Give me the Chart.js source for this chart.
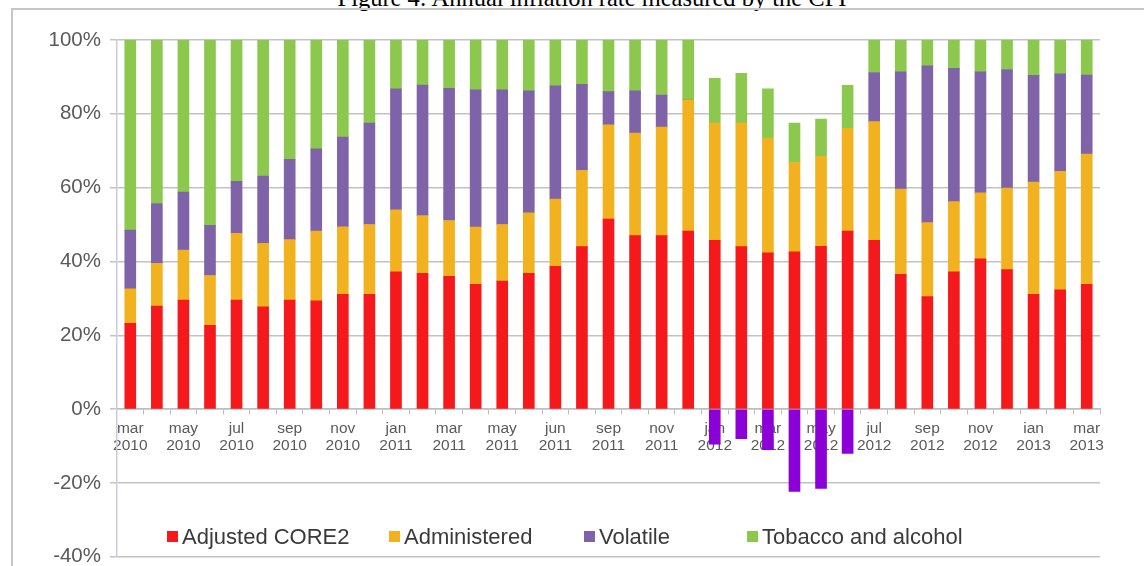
<!DOCTYPE html>
<html>
<head>
<meta charset="utf-8">
<script src="https://cdn.jsdelivr.net/npm/chart.js@4"></script>
<style>
  html, body { margin: 0; padding: 0; background: #fff; }
  #wrap { position: relative; width: 1144px; height: 566px; overflow: hidden; background: #fff; }
  #frame { position: absolute; left: 11px; top: 8px; width: 1200px; height: 620px; border: 2px solid #c6c6c6; box-sizing: border-box; }
  #title { position: absolute; left: 0; width: 1184px; top: -14px; text-align: center; font-family: "Liberation Serif", serif; font-size: 24.5px; line-height: 24px; color: #000; white-space: nowrap; }
  #chart { position: absolute; left: 0; top: 0; }
  .leg { position: absolute; top: 526px; font-family: "Liberation Sans", Arial, sans-serif; font-size: 22px; line-height: 22px; color: #3a3a3a; white-space: nowrap; }
  .leg i { display: inline-block; width: 11px; height: 11px; margin-right: 4px; vertical-align: 2px; }
</style>
</head>
<body>
<div id="wrap">
  <div id="title">Figure 4: Annual inflation rate measured by the CPI</div>
  <div id="frame"></div>
  <canvas id="chart" width="1144" height="578"></canvas>
  <div id="legend"></div>
</div>
<script>
const categories = [
  "mar 2010","apr 2010","may 2010","jun 2010","jul 2010","aug 2010","sep 2010","oct 2010","nov 2010","dec 2010",
  "jan 2011","feb 2011","mar 2011","apr 2011","may 2011","jun 2011","jul 2011","aug 2011","sep 2011","oct 2011","nov 2011","dec 2011",
  "jan 2012","feb 2012","mar 2012","apr 2012","may 2012","jun 2012","jul 2012","aug 2012","sep 2012","oct 2012","nov 2012","dec 2012",
  "jan 2013","feb 2013","mar 2013"
];
const tickLabels = [
  "mar 2010","may 2010","jul 2010","sep 2010","nov 2010","jan 2011","mar 2011","may 2011","jun 2011",
  "sep 2011","nov 2011","jan 2012","mar 2012","may 2012","jul 2012","sep 2012","nov 2012","ian 2013","mar 2013"
];
const seriesNames = ["Adjusted CORE2", "Administered", "Volatile", "Tobacco and alcohol"];
const adjustedCore2 = [23.2,27.9,29.5,22.7,29.5,27.7,29.5,29.3,31.1,31.1,37.2,36.8,36.0,33.8,34.7,36.8,38.7,44.0,51.5,47.0,47.0,48.2,45.7,44.0,42.3,42.6,44.1,48.2,45.7,36.5,30.5,37.2,40.7,37.8,31.1,32.3,33.8];
const administered = [9.4,11.6,13.6,13.5,18.1,17.2,16.4,18.9,18.3,18.9,16.8,15.6,15.1,15.5,15.3,16.4,18.2,20.7,25.5,27.8,29.4,35.6,31.8,33.5,31.1,24.2,24.4,27.9,32.2,23.1,20.0,19.0,17.9,22.1,30.4,32.1,35.3];
const volatile = [15.9,16.2,15.7,13.6,14.1,18.2,21.8,22.3,24.3,27.5,32.8,35.4,35.8,37.2,36.5,33.0,30.7,23.3,9.0,11.4,8.7,0,-9.5,-8.0,-11.0,-22.3,-21.5,-12.0,13.3,31.8,42.5,36.1,32.8,32.1,28.9,26.4,21.4];
const tobaccoAlcohol = [51.5,44.3,41.2,50.2,38.3,36.9,32.3,29.5,26.3,22.5,13.2,12.2,13.1,13.5,13.5,13.8,12.4,12.0,14.0,13.8,14.9,16.2,12.1,13.5,13.4,10.7,10.1,11.6,8.8,8.6,7.0,7.7,8.6,8.0,9.6,9.2,9.5];
const yTicks = [-40,-20,0,20,40,60,80,100];

const colors = ["#f5191c", "#f2b21f", "#7e63a8", "#8cc84d"];
const negVolatileColor = "#8a00d6";

const datasets = [adjustedCore2, administered, volatile, tobaccoAlcohol].map((d, i) => ({
  label: seriesNames[i],
  data: d,
  backgroundColor: i === 2 ? (ctx => (ctx.raw < 0 ? negVolatileColor : colors[2])) : colors[i],
  borderWidth: 0,
  barThickness: 11,
  stack: "s"
}));

new Chart(document.getElementById("chart"), {
  type: "bar",
  data: { labels: categories, datasets },
  options: {
    responsive: false,
    animation: false,
    devicePixelRatio: 1,
    layout: { padding: { left: 0, top: 40, right: 44, bottom: 9 } },
    plugins: { legend: { display: false }, tooltip: { enabled: false }, title: { display: false } },
    scales: {
      x: {
        stacked: true,
        position: { y: 0 },
        offset: true,
        grid: { display: true, drawOnChartArea: false, drawTicks: true, tickLength: 5, offset: true, color: "#bdbdbd", lineWidth: 1 },
        border: { display: true, color: "#bdbdbd", width: 1.5 },
        ticks: {
          autoSkip: false, maxRotation: 0, minRotation: 0, padding: 7,
          color: "#5a5a5a",
          font: { family: "'Liberation Sans', Arial, sans-serif", size: 15.5, lineHeight: 1.05 },
          callback: (v, i) => (i % 2 === 0 && tickLabels[i / 2]) ? tickLabels[i / 2].split(" ") : ""
        }
      },
      y: {
        stacked: true,
        min: yTicks[0], max: yTicks[yTicks.length - 1],
        afterFit: s => { s.width = 117; },
        afterBuildTicks: s => { s.ticks = yTicks.map(v => ({ value: v })); },
        grid: { color: "#c2c2c2", lineWidth: 1.5, tickLength: 7, drawTicks: true },
        border: { display: true, color: "#cbcbdb", width: 1.5 },
        ticks: {
          padding: 9,
          color: "#5a5a5a",
          font: { family: "'Liberation Sans', Arial, sans-serif", size: 20.5 },
          callback: v => v + "%"
        }
      }
    }
  }
});

// legend built from the series names and colours
const legendX = [167, 389, 584, 747];
const lg = document.getElementById("legend");
seriesNames.forEach((n, i) => {
  const el = document.createElement("div");
  el.className = "leg";
  el.style.left = legendX[i] + "px";
  el.innerHTML = '<i style="background:' + colors[i] + '"></i>' + n;
  lg.appendChild(el);
});
</script>
</body>
</html>
